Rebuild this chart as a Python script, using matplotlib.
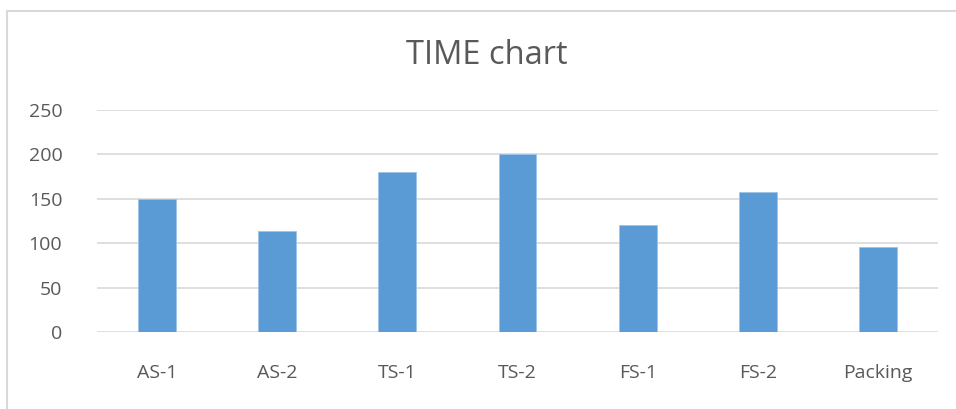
import matplotlib
matplotlib.use('Agg')
import matplotlib.pyplot as plt
from matplotlib.patches import Rectangle

# station names and their times
stations = ['AS-1', 'AS-2', 'TS-1', 'TS-2', 'FS-1', 'FS-2', 'Packing']
times = [150, 114, 180, 200, 120, 158, 96]
y_ticks = [0, 50, 100, 150, 200, 250]

plt.rcParams['font.family'] = ['Open Sans', 'DejaVu Sans']

W, H = 956, 409
fig = plt.figure(figsize=(W / 100, H / 100), dpi=100)

# chart frame, runs off the right and bottom edges
fig.patches.append(Rectangle((7 / W, -0.05), 1.1, 1 - 11 / H + 0.05,
                             transform=fig.transFigure, fill=False,
                             edgecolor='#d9d9d9', linewidth=1.5))

ax = fig.add_axes([97 / W, 1 - 332 / H, (938 - 97) / W, (332 - 110) / H])
x = range(len(stations))
ax.bar(x, times, width=0.315, color='#5b9bd5', edgecolor='#9dc3e6',
       linewidth=0.6, zorder=3)

ax.set_xlim(-0.5, len(stations) - 0.5)
ax.set_ylim(0, 250)
ax.set_yticks(y_ticks)
ax.set_yticklabels([str(v) for v in y_ticks])
ax.set_xticks(list(x))
ax.set_xticklabels(stations)
ax.grid(axis='y', color='#d9d9d9', linewidth=1.2, zorder=0)
ax.tick_params(axis='both', length=0, labelsize=14, labelcolor='#595959')
ax.tick_params(axis='y', pad=25)
ax.tick_params(axis='x', pad=23)
for side in ['top', 'right', 'left', 'bottom']:
    ax.spines[side].set_visible(False)

fig.text(487 / W, 1 - 56 / H, 'TIME chart', ha='center', va='center',
         fontsize=23.5, color='#595959')

fig.savefig('out.png', dpi=100)
